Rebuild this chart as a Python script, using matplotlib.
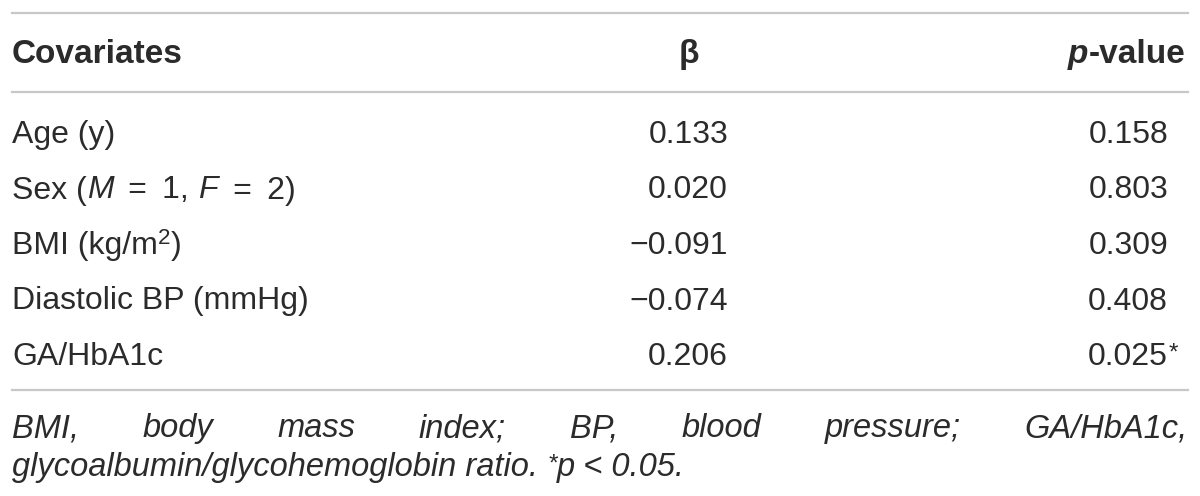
import matplotlib
matplotlib.use("Agg")
import matplotlib.pyplot as plt

# table content
header = ["Covariates", "\u03b2", "p-value"]
covariates = ["Age (y)", "Sex (M = 1, F = 2)", "BMI (kg/m2)", "Diastolic BP (mmHg)", "GA/HbA1c"]
beta = ["0.133", "0.020", "\u22120.091", "\u22120.074", "0.206"]
pvals = ["0.158", "0.803", "0.309", "0.408", "0.025"]
signif = [False, False, False, False, True]
foot1 = ["BMI,", "body", "mass", "index;", "BP,", "blood", "pressure;", "GA/HbA1c,"]
foot2 = ["glycoalbumin/glycohemoglobin ratio. ", "*", "p < 0.05."]

W, H = 1200, 496
FS = 23
TXT = "#2b2b2b"
RULE = "#c8c8c8"
plt.rcParams['font.family'] = ['Liberation Sans', 'DejaVu Sans']

fig = plt.figure(figsize=(W / 100, H / 100), dpi=100)
fig.patch.set_facecolor("white")
renderer = fig.canvas.get_renderer()


def fx(x):
    return x / W


def fy(y):
    return 1 - y / H


def width_of(t):
    bb = t.get_window_extent(renderer=renderer)
    return bb.width


def runs(x, y, parts, ha="left"):
    # parts: list of (text, style, weight, dy, size)
    items = []
    for s, style, weight, dy, size in parts:
        t = fig.text(0, 0, s, fontsize=size, style=style, weight=weight,
                     color=TXT, va="baseline", ha="left")
        items.append((t, dy))
    total = sum(width_of(t) for t, _ in items)
    cx = x - total if ha == "right" else x
    for t, dy in items:
        t.set_position((fx(cx), fy(y - dy)))
        cx += width_of(t)
    return total


def rule(y):
    fig.add_artist(plt.Line2D([fx(12), fx(1188)], [fy(y), fy(y)], color=RULE, lw=1.6))


rule(13)
rule(92)
rule(390)

# header
head_y = 63
HFS = 24
fig.text(fx(12), fy(head_y), header[0], fontsize=HFS, weight="bold", color=TXT, va="baseline")
fig.text(fx(689), fy(head_y), header[1], fontsize=HFS, weight="bold", color=TXT, va="baseline", ha="center")
runs(1185, head_y, [("p", "italic", "bold", 0, HFS), ("-value", "normal", "bold", 0, HFS)], ha="right")

row_y0 = 143
row_dy = 55.5
for i, name in enumerate(covariates):
    y = row_y0 + i * row_dy
    if name.startswith("Sex"):
        parts = [("Sex (", "normal", "normal", 0, FS), ("M", "italic", "normal", 0, FS),
                 (" \u2009=\u2009 1, ", "normal", "normal", 0, FS), ("F", "italic", "normal", 0, FS),
                 (" \u2009=\u2009 2)", "normal", "normal", 0, FS)]
    elif name.startswith("BMI"):
        parts = [("BMI (kg/m", "normal", "normal", 0, FS), ("2", "normal", "normal", 10, FS * 0.7),
                 (")", "normal", "normal", 0, FS)]
    else:
        parts = [(name, "normal", "normal", 0, FS)]
    runs(12, y, parts)
    fig.text(fx(728), fy(y), beta[i], fontsize=FS, color=TXT, va="baseline", ha="right")
    fig.text(fx(1168), fy(y), pvals[i], fontsize=FS, color=TXT, va="baseline", ha="right")
    if signif[i]:
        fig.text(fx(1169), fy(y - 5), "*", fontsize=FS * 0.75, color=TXT, va="baseline", ha="left")

# footnote, first line justified
FFS = 23.5
f1_y = 437
words = [fig.text(0, 0, w, fontsize=FFS, style="italic", color=TXT, va="baseline") for w in foot1]
widths = [width_of(t) for t in words]
gap = (1188 - 12 - sum(widths)) / (len(words) - 1)
cx = 12
for t, w in zip(words, widths):
    t.set_position((fx(cx), fy(f1_y)))
    cx += w + gap

runs(12, 476, [(foot2[0], "italic", "normal", 0, FFS), (foot2[1], "italic", "normal", 5, FFS * 0.75),
               (foot2[2], "italic", "normal", 0, FFS)])

fig.savefig("out.png", dpi=100, facecolor="white")
